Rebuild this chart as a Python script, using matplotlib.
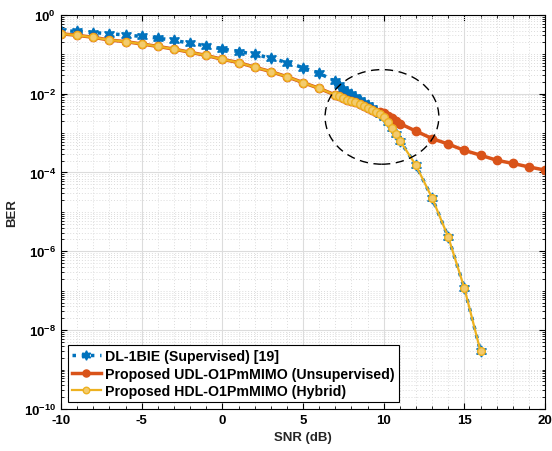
import matplotlib.pyplot as plt
import numpy as np
from matplotlib.patches import Ellipse
from matplotlib.ticker import LogLocator, FixedLocator, MultipleLocator, NullFormatter

plt.rcParams['font.family'] = ['Liberation Sans', 'DejaVu Sans']
plt.rcParams['font.weight'] = 'bold'
plt.rcParams['mathtext.default'] = 'bf'
plt.rcParams['axes.unicode_minus'] = False

# SNR grid (dB): coarse, then dense around the switch region, then coarse again
snr = [-10, -9, -8, -7, -6, -5, -4, -3, -2, -1, 0, 1, 2, 3, 4, 5, 6, 7,
       7.25, 7.5, 7.75, 8, 8.25, 8.5, 8.75, 9, 9.25, 9.5, 9.75, 10,
       10.25, 10.5, 10.75, 11,
       12, 13, 14, 15, 16, 17, 18, 19, 20]

# DL-1BIE (supervised) [19], up to 16 dB
ber_dl = [0.398, 0.38, 0.355, 0.331, 0.309, 0.282, 0.257, 0.224, 0.191, 0.162,
          0.136, 0.117, 0.100, 0.0794, 0.0617, 0.0457, 0.0331, 0.0204,
          0.0162, 0.0132, 0.0112, 0.00955, 0.00813, 0.00692, 0.00589, 0.00501,
          0.00427, 0.00363, 0.00309, 0.00263,
          0.00191, 0.00135, 0.000933, 0.000646,
          1.51e-4, 2.24e-5, 2.29e-6, 1.15e-7, 2.88e-9]

# proposed UDL (unsupervised), up to 20 dB
ber_udl = [0.331, 0.302, 0.269, 0.229, 0.209, 0.182, 0.158, 0.135, 0.112, 0.0933,
           0.0741, 0.0617, 0.0468, 0.0363, 0.0269, 0.0191, 0.0136, 0.00923,
           0.00851, 0.00776, 0.00708, 0.00661, 0.00603, 0.0055, 0.0049, 0.00437,
           0.00389, 0.00347, 0.00339, 0.00316,
           0.00269, 0.0024, 0.00204, 0.00174,
           0.00112, 7.24e-4, 5.25e-4, 3.63e-4, 2.75e-4, 2.04e-4, 1.70e-4, 1.38e-4, 1.15e-4]

# proposed HDL (hybrid), up to 16 dB
ber_hdl = [0.331, 0.302, 0.269, 0.229, 0.209, 0.182, 0.158, 0.135, 0.112, 0.0933,
           0.0741, 0.0617, 0.0468, 0.0363, 0.0269, 0.0191, 0.0136, 0.00923,
           0.00851, 0.00776, 0.00708, 0.00661, 0.00603, 0.0055, 0.0049, 0.00437,
           0.00389, 0.00347, 0.00302, 0.00263,
           0.00191, 0.00135, 0.000933, 0.000646,
           1.51e-4, 2.24e-5, 2.29e-6, 1.15e-7, 2.88e-9]

labels = ['DL-1BIE (Supervised) [19]',
          'Proposed UDL-O1PmMIMO (Unsupervised)',
          'Proposed HDL-O1PmMIMO (Hybrid)']

c_blue = '#0072BD'
c_orange = '#D95319'
c_yellow = '#EDB120'

fig = plt.figure(figsize=(5.52, 4.52), dpi=100)
ax = fig.add_axes([0.1105, 0.093, 0.877, 0.872])

ax.semilogy(snr[:len(ber_dl)], ber_dl, ':', color=c_blue, lw=2.5,
            marker=(6, 1, 0), ms=8, mfc=c_blue, mec=c_blue, label=labels[0])
ax.semilogy(snr[:len(ber_udl)], ber_udl, '-', color=c_orange, lw=2.5,
            marker='o', ms=6, mfc=c_orange, mec=c_orange, label=labels[1])
ax.semilogy(snr[:len(ber_hdl)], ber_hdl, '-', color=c_yellow, lw=1.6,
            marker='o', ms=5.5, mfc='#F3CB6E', mec=c_yellow, mew=1.0, label=labels[2])

# dashed ellipse around the switching region
ax.add_patch(Ellipse((0.663, 0.741), 0.235, 0.24, transform=ax.transAxes,
                     fill=False, ls=(0, (6, 4)), lw=1.0, ec='black', zorder=5))

ax.set_xlim(-10, 20)
ax.set_ylim(1e-10, 1)
ax.xaxis.set_major_locator(MultipleLocator(5))
ax.xaxis.set_minor_locator(MultipleLocator(1))
ax.yaxis.set_major_locator(FixedLocator([1e-10, 1e-8, 1e-6, 1e-4, 1e-2, 1]))
ax.yaxis.set_minor_locator(LogLocator(base=10, subs=np.arange(1, 10), numticks=50))
ax.yaxis.set_minor_formatter(NullFormatter())

ax.grid(True, which='major', color='#DCDCDC', lw=0.8, ls='-')
ax.grid(True, which='minor', color='#DCDCDC', lw=0.7, ls=(0, (1, 2)))
ax.set_axisbelow(True)

ax.tick_params(which='both', direction='in', top=True, right=True, labelsize=9.5)
ax.tick_params(which='major', length=4)
ax.tick_params(which='minor', length=2)
for s in ax.spines.values():
    s.set_linewidth(0.8)

ax.set_xlabel('SNR (dB)', fontsize=9.5, fontweight='bold', color='#262626')
ax.set_ylabel('BER', fontsize=9.5, fontweight='bold', color='#262626')

leg = ax.legend(loc='lower left', bbox_to_anchor=(0.0, 0.0), fontsize=10.2,
                handlelength=2.0, handletextpad=0.3, labelspacing=0.22,
                borderpad=0.3, borderaxespad=0.5, fancybox=False, framealpha=1,
                edgecolor='black', markerscale=0.85)
leg.get_frame().set_linewidth(0.8)
for t in leg.get_texts():
    t.set_fontweight('bold')

fig.savefig('out.png', dpi=100)
